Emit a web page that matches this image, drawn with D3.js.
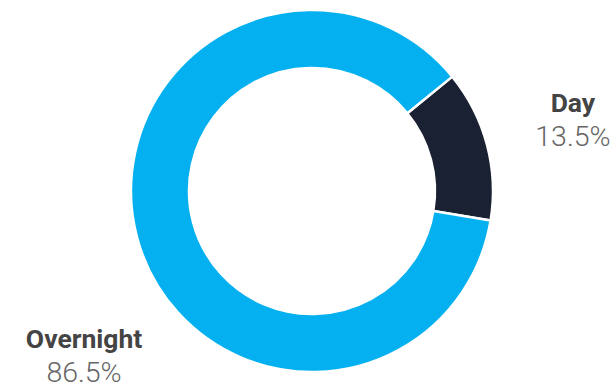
<!DOCTYPE html>
<html>
<head>
<meta charset="utf-8">
<script src="https://cdn.jsdelivr.net/npm/d3@7"></script>
<style>
  html, body { margin: 0; padding: 0; background: #fff; }
  svg { display: block; }
</style>
</head>
<body>
<div id="chart"></div>
<script>
// --- DATA ---
const categories = ["Day", "Overnight"];
const shares = [13.5, 86.5];
const valueLabels = ["13.5%", "86.5%"];

// --- CONFIG ---
const WIDTH = 616;
const HEIGHT = 388;
const CX = 312, CY = 191;
const OUTER = 181, INNER = 123;
const COLORS = { "Day": "#1a2133", "Overnight": "#04b0ef" };
const START = 50.8 * Math.PI / 180;
// label distance from centre; the big slice label sits lower-left, not at mid angle
const LABEL_R = { "Day": 270, "Overnight": 282.5 };
const LABEL_ANGLE = { "Overnight": 233.8 * Math.PI / 180 };

const rows = categories.map((c, i) => ({ name: c, value: shares[i], label: valueLabels[i] }));

const svg = d3.select("#chart").append("svg")
  .attr("width", WIDTH).attr("height", HEIGHT)
  .style("font-family", "Roboto, sans-serif");

const pie = d3.pie()
  .sort(null)
  .value(d => d.value)
  .startAngle(START)
  .endAngle(START + 2 * Math.PI);

const arcs = pie(rows);

const arc = d3.arc().innerRadius(INNER).outerRadius(OUTER);

const g = svg.append("g").attr("transform", `translate(${CX},${CY})`);

g.selectAll("path")
  .data(arcs)
  .join("path")
  .attr("d", arc)
  .attr("fill", d => COLORS[d.data.name])
  .attr("stroke", "#fff")
  .attr("stroke-width", 2.5)
  .attr("stroke-linejoin", "round");

// labels: bold name + light value underneath
const labels = g.selectAll("g.lbl")
  .data(arcs)
  .join("g")
  .attr("class", "lbl")
  .attr("transform", d => {
    const a = LABEL_ANGLE[d.data.name] ?? (d.startAngle + d.endAngle) / 2;
    const r = LABEL_R[d.data.name];
    return `translate(${Math.sin(a) * r},${-Math.cos(a) * r})`;
  });

labels.append("text")
  .attr("text-anchor", "middle")
  .attr("y", -10)
  .attr("font-size", 26.5)
  .attr("font-weight", 700)
  .attr("fill", "#444")
  .text(d => d.data.name);

labels.append("text")
  .attr("text-anchor", "middle")
  .attr("y", 24.5)
  .attr("font-size", 28.5)
  .attr("font-weight", 300)
  .attr("fill", "#666")
  .text(d => d.data.label);
</script>
</body>
</html>
